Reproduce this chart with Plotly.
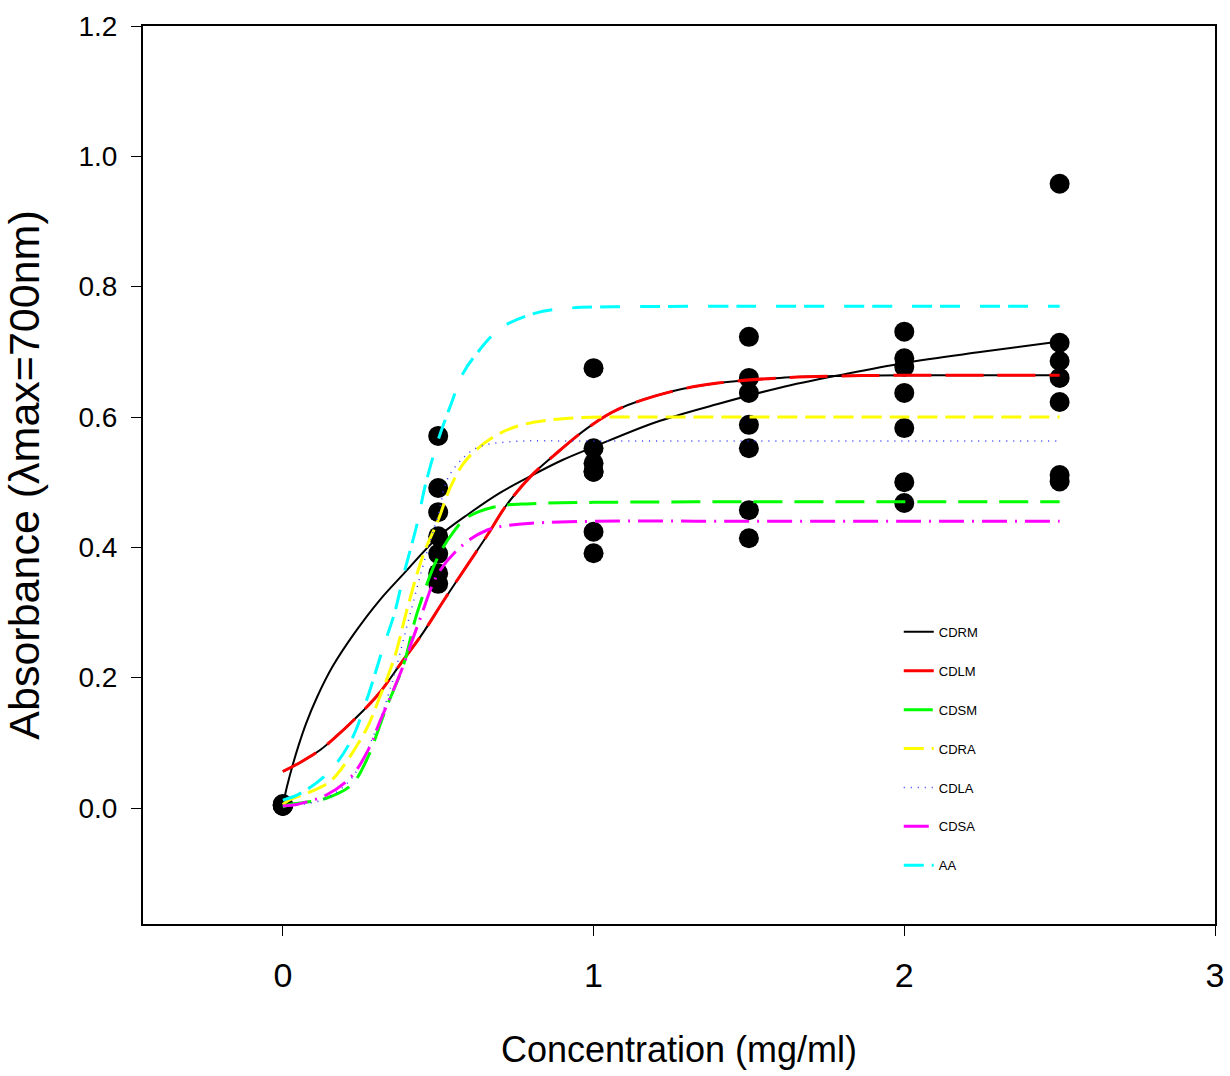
import plotly.graph_objects as go

# ---- measured points (black dots) ----
pts_x = [0, 0, 0, 0, 0, 0, 0,
         0.5, 0.5, 0.5, 0.5, 0.5, 0.5, 0.5,
         1, 1, 1, 1, 1, 1, 1,
         1.5, 1.5, 1.5, 1.5, 1.5, 1.5, 1.5,
         2, 2, 2, 2, 2, 2, 2,
         2.5, 2.5, 2.5, 2.5, 2.5, 2.5, 2.5]
pts_y = [0.004, 0.005, 0.003, 0.006, 0.004, 0.005, 0.004,
         0.571, 0.491, 0.454, 0.417, 0.390, 0.360, 0.344,
         0.675, 0.552, 0.529, 0.516, 0.516, 0.424, 0.391,
         0.723, 0.660, 0.637, 0.588, 0.552, 0.457, 0.414,
         0.731, 0.690, 0.677, 0.637, 0.583, 0.500, 0.468,
         0.958, 0.714, 0.686, 0.660, 0.623, 0.511, 0.501]

# ---- fitted curves ----
cdrm_x = [0, 0.015, 0.03, 0.05, 0.075, 0.11, 0.16, 0.23, 0.31, 0.39, 0.5, 0.6, 0.7, 0.8, 0.9, 1.0, 1.2, 1.4, 1.6, 1.8, 2.0, 2.25, 2.5]
cdrm_y = [0.005, 0.036, 0.063, 0.095, 0.130, 0.170, 0.217, 0.268, 0.318, 0.360, 0.416, 0.452, 0.484, 0.510, 0.534, 0.554, 0.592, 0.620, 0.645, 0.665, 0.683, 0.700, 0.716]

cdlm_x = [0, 0.06, 0.12, 0.17, 0.26, 0.31, 0.38, 0.45, 0.52, 0.59, 0.66, 0.72, 0.8, 0.87, 0.98, 1.08, 1.25, 1.4, 1.6, 1.8, 2.0, 2.5]
cdlm_y = [0.056, 0.071, 0.089, 0.109, 0.150, 0.176, 0.222, 0.268, 0.320, 0.370, 0.420, 0.465, 0.510, 0.540, 0.583, 0.612, 0.639, 0.652, 0.660, 0.663, 0.664, 0.664]

cdsm_x = [0, 0.03, 0.09, 0.14, 0.22, 0.27, 0.33, 0.39, 0.43, 0.5, 0.55, 0.59, 0.68, 0.8, 1.0, 1.5, 2.0, 2.5]
cdsm_y = [0.002, 0.006, 0.010, 0.015, 0.035, 0.074, 0.150, 0.222, 0.296, 0.386, 0.424, 0.445, 0.462, 0.467, 0.469, 0.470, 0.470, 0.470]

cdra_x = [0, 0.02, 0.09, 0.15, 0.19, 0.27, 0.31, 0.36, 0.40, 0.45, 0.5, 0.54, 0.59, 0.68, 0.77, 0.92, 1.2, 1.5, 2.0, 2.5]
cdra_y = [0.005, 0.012, 0.025, 0.040, 0.061, 0.122, 0.168, 0.232, 0.305, 0.386, 0.442, 0.493, 0.534, 0.570, 0.588, 0.598, 0.600, 0.600, 0.600, 0.600]

cdla_x = [0, 0.07, 0.14, 0.22, 0.30, 0.35, 0.40, 0.45, 0.50, 0.53, 0.58, 0.63, 0.73, 1.0, 1.5, 2.0, 2.5]
cdla_y = [0.003, 0.006, 0.015, 0.045, 0.120, 0.190, 0.280, 0.370, 0.450, 0.505, 0.537, 0.554, 0.562, 0.563, 0.563, 0.563, 0.563]

cdsa_x = [0, 0.05, 0.14, 0.22, 0.28, 0.31, 0.38, 0.44, 0.5, 0.58, 0.66, 0.73, 0.8, 1.0, 1.5, 2.0, 2.5]
cdsa_y = [0.003, 0.006, 0.020, 0.048, 0.094, 0.130, 0.209, 0.288, 0.360, 0.404, 0.427, 0.434, 0.437, 0.440, 0.440, 0.440, 0.440]

aa_x = [0, 0.055, 0.15, 0.22, 0.27, 0.32, 0.36, 0.39, 0.43, 0.46, 0.5, 0.54, 0.58, 0.62, 0.7, 0.81, 0.92, 1.06, 1.5, 2.0, 2.5]
aa_y = [0.012, 0.022, 0.056, 0.104, 0.166, 0.242, 0.300, 0.360, 0.432, 0.498, 0.565, 0.618, 0.667, 0.695, 0.736, 0.759, 0.767, 0.769, 0.770, 0.770, 0.770]

x_ticks = [0, 1, 2, 3]
y_ticks = [0.0, 0.2, 0.4, 0.6, 0.8, 1.0, 1.2]
y_tick_text = ["0.0", "0.2", "0.4", "0.6", "0.8", "1.0", "1.2"]

FONT = "Liberation Sans, Arial, sans-serif"

fig = go.Figure()

fig.add_trace(go.Scatter(x=pts_x, y=pts_y, mode="markers",
                         marker=dict(color="black", size=20, line=dict(width=0)),
                         showlegend=False, hoverinfo="skip"))

# black underlay beneath the red fitted curve (visible in the gaps)
fig.add_trace(go.Scatter(x=cdlm_x, y=cdlm_y, mode="lines",
                         line=dict(color="black", width=2, shape="spline", smoothing=1.0),
                         showlegend=False, hoverinfo="skip"))

curves = [
    ("CDRM", cdrm_x, cdrm_y, "black", "solid", 2),
    ("CDLM", cdlm_x, cdlm_y, "#ff0000", "38px,14px", 3),
    ("CDSM", cdsm_x, cdsm_y, "#00ff00", "29px,12px", 3),
    ("CDRA", cdra_x, cdra_y, "#ffff00", "20px,8px", 3),
    ("CDLA", cdla_x, cdla_y, "#3333ff", "1px,6px", 1.5),
    ("CDSA", cdsa_x, cdsa_y, "#ff00ff", "25px,8px,2px,8px", 3),
    ("AA", aa_x, aa_y, "#00ffff", "20px,8px,20px,20px", 3),
]
for name, xs, ys, col, dash, w in curves:
    fig.add_trace(go.Scatter(x=xs, y=ys, mode="lines", name=name,
                             line=dict(color=col, dash=dash, width=w, shape="spline", smoothing=1.0),
                             legendgroup=name, hoverinfo="skip"))

fig.update_layout(
    width=1230, height=1076,
    margin=dict(l=143, r=15, t=26, b=152),
    paper_bgcolor="white", plot_bgcolor="white",
    font=dict(family=FONT, color="black"),
    showlegend=True,
    legend=dict(x=0.705, y=0.342, xanchor="left", yanchor="top",
                bgcolor="rgba(0,0,0,0)", font=dict(size=13, family=FONT),
                tracegroupgap=19, itemwidth=30),
    xaxis=dict(range=[-0.45, 3.0], tickvals=x_ticks, ticktext=[str(v) for v in x_ticks],
               automargin=False,
               showgrid=False, zeroline=False, showline=True, linecolor="black", linewidth=2,
               mirror=True, ticks="outside", ticklen=10, tickwidth=1, tickcolor="black",
               ticklabelstandoff=10,
               tickfont=dict(size=34, family=FONT),
               title=dict(text="Concentration (mg/ml)", font=dict(size=36, family=FONT), standoff=44)),
    yaxis=dict(range=[-0.178, 1.2], tickvals=y_ticks, ticktext=y_tick_text,
               automargin=False,
               showgrid=False, zeroline=False, showline=True, linecolor="black", linewidth=2,
               mirror=True, ticks="outside", ticklen=10, tickwidth=1, tickcolor="black",
               ticklabelstandoff=8,
               tickfont=dict(size=28, family=FONT),
               title=dict(text="Absorbance (λmax=700nm)", font=dict(size=43, family=FONT), standoff=25)),
)

fig.write_html("out.html")
